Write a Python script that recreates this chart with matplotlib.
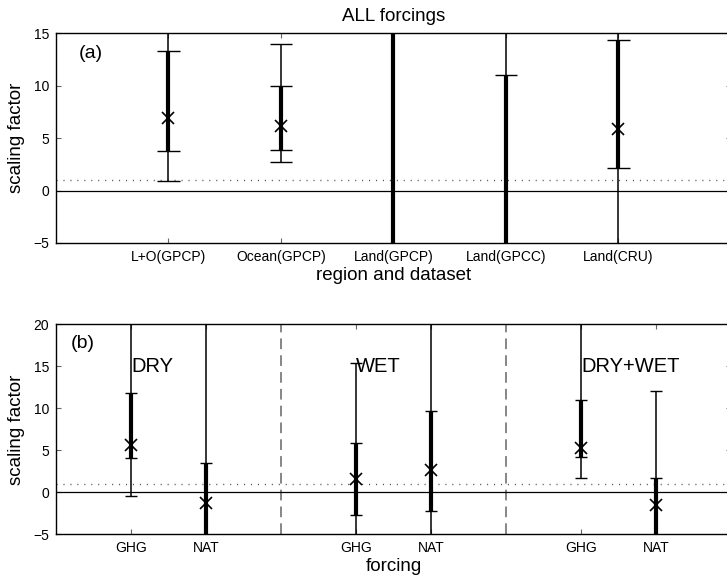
import numpy as np
import matplotlib
matplotlib.use("Agg")
import matplotlib.pyplot as plt

plt.rcParams["font.family"] = ["Liberation Sans", "DejaVu Sans"]

# panel (a): ALL forcings, per region / dataset
# None = bar runs off the plotted range (no cap drawn)
regions = ["L+O(GPCP)", "Ocean(GPCP)", "Land(GPCP)", "Land(GPCC)", "Land(CRU)"]
best_a = [6.9, 6.2, None, None, 5.9]
lo90_a = [0.9, 2.7, None, None, None]
hi90_a = [None, 14.0, None, None, None]
lo66_a = [3.8, 3.9, None, None, 2.2]
hi66_a = [13.3, 10.0, None, 11.0, 14.4]

# panel (b): GHG / NAT for DRY, WET, DRY+WET
groups = ["DRY", "WET", "DRY+WET"]
forcings = ["GHG", "NAT", "GHG", "NAT", "GHG", "NAT"]
pos_b = [1, 2, 4, 5, 7, 8]
best_b = [5.6, -1.3, 1.6, 2.65, 5.3, -1.5]
lo90_b = [-0.45, None, None, None, 1.65, None]
hi90_b = [None, None, 15.4, None, None, 12.1]
lo66_b = [4.05, None, -2.7, -2.2, 4.2, None]
hi66_b = [11.8, 3.45, 5.9, 9.7, 11.0, 1.7]


def draw_bars(ax, xs, best, lo90, hi90, lo66, hi66, ylim, capw):
    far = 10 * (ylim[1] - ylim[0])
    for x, b, l9, h9, l6, h6 in zip(xs, best, lo90, hi90, lo66, hi66):
        # thin = 90% range, thick = 66% range
        for lo, hi, lw in [(l9, h9, 1.1), (l6, h6, 3.0)]:
            y0 = ylim[0] - far if lo is None else lo
            y1 = ylim[1] + far if hi is None else hi
            ax.vlines(x, y0, y1, colors="black", lw=lw, zorder=3)
            for c in (lo, hi):
                if c is not None:
                    ax.hlines(c, x - capw, x + capw, colors="black", lw=1.0, zorder=3)
        if b is not None:
            ax.plot(x, b, "kx", ms=9, mew=1.2, zorder=4)


def style(ax, ylim, yticks):
    ax.set_ylim(*ylim)
    ax.set_yticks(yticks)
    ax.axhline(0, color="black", lw=0.9, zorder=2)
    ax.axhline(1, color="0.35", lw=1.0, ls=(0, (0.8, 4.2)), zorder=2)
    ax.tick_params(direction="in", length=3.6, width=0.8, color="0.4",
                   top=True, right=True, labelsize=10, pad=5)
    for s in ax.spines.values():
        s.set_linewidth(1.0)
    ax.set_ylabel("scaling factor", fontsize=13.5, labelpad=6)


fig = plt.figure(figsize=(7.27, 5.83), dpi=100)

ax1 = fig.add_axes([0.077, 0.5832, 0.9285, 0.3597])
ylim_a = (-5, 15)
draw_bars(ax1, range(1, 6), best_a, lo90_a, hi90_a, lo66_a, hi66_a, ylim_a, 0.1)
ax1.set_xlim(0, 6)
ax1.set_xticks(range(1, 6))
ax1.set_xticklabels(regions)
style(ax1, ylim_a, [-5, 0, 5, 10, 15])
ax1.set_xlabel("region and dataset", fontsize=13.5, labelpad=2)
ax1.set_title("ALL forcings", fontsize=13.5, pad=9)
ax1.text(0.033, 0.905, "(a)", transform=ax1.transAxes, fontsize=14,
         ha="left", va="center")

ax2 = fig.add_axes([0.077, 0.0835, 0.9285, 0.360])
ylim_b = (-5, 20)
draw_bars(ax2, pos_b, best_b, lo90_b, hi90_b, lo66_b, hi66_b, ylim_b, 0.08)
ax2.set_xlim(0, 9)
ax2.set_xticks(pos_b)
ax2.set_xticklabels(forcings)
for xd in [3, 6]:
    ax2.axvline(xd, color="0.4", lw=1.1, ls=(0, (7, 4)), zorder=2)
for g, xg in zip(groups, pos_b[::2]):
    ax2.text(xg, 15, g, fontsize=14.5, ha="left", va="center", zorder=5)
style(ax2, ylim_b, [-5, 0, 5, 10, 15, 20])
ax2.set_xlabel("forcing", fontsize=13.5, labelpad=2)
ax2.text(0.022, 0.91, "(b)", transform=ax2.transAxes, fontsize=14,
         ha="left", va="center")

fig.savefig("out.png", dpi=100)
